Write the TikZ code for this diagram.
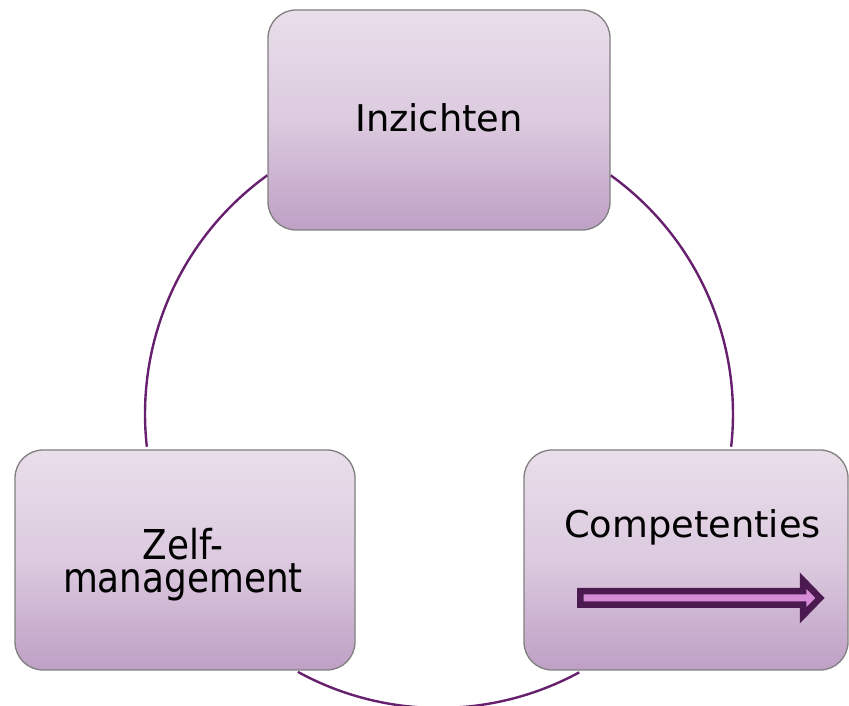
\documentclass[tikz,border=0pt]{standalone}
\usepackage{fontspec}
\setmainfont{DejaVu Sans}
\usepackage{graphicx}
\definecolor{boxtop}{RGB}{233,222,234}
\definecolor{boxmid}{RGB}{220,202,223}
\definecolor{boxbot}{RGB}{190,160,197}
\definecolor{boxedge}{RGB}{128,128,128}
\definecolor{ringcol}{RGB}{102,32,110}
\definecolor{arrowedge}{RGB}{74,26,80}
\definecolor{arrowfill}{RGB}{214,140,214}
\begin{document}
\begin{tikzpicture}[x=1pt,y=1pt,
  cyclebox/.style={draw=boxedge, line width=1.3pt, rounded corners=28pt,
    top color=boxtop, bottom color=boxbot, middle color=boxmid,
    minimum height=220pt, inner sep=0pt, outer sep=0pt},
  boxtext/.style={font=\fontsize{36.8}{44}\selectfont, inner sep=0pt, text=black},
  ring/.style={draw=ringcol, line width=2.4pt},
  bigarrow/.style={draw=arrowedge, fill=arrowfill, line width=6.5pt, miter limit=10}]
\useasboundingbox (0,0) rectangle (849,706);
\clip (0,0) rectangle (849,706);
\coordinate (c) at (439,292);
% ring segments
\draw[ring] (c) ++(125.7:294) arc[start angle=125.7, end angle=186.4, radius=294];
\draw[ring] (c) ++(54.3:294) arc[start angle=54.3, end angle=-6.4, radius=294];
\draw[ring] (c) ++(241.3:294) arc[start angle=241.3, end angle=298.5, radius=294];
% boxes
\node[cyclebox, minimum width=342pt] (inz) at (439,586) {};
\node[cyclebox, minimum width=340pt] (zelf) at (185,146) {};
\node[cyclebox, minimum width=324pt] (comp) at (686,146) {};
% texts
\node[boxtext, anchor=base] (inztext) at (439,574) {Inzichten};
\node[boxtext, anchor=base] (comptext) at (692.5,168.7) {Competenties};
\node[boxtext, font=\fontsize{35.8}{28.5}\selectfont, anchor=base] (zelftext) at (183,146)
  {\scalebox{1}[1.15]{\parbox[t]{300pt}{\centering Zelf-\\management}}};
% arrow
\draw[bigarrow] (580.25,101.25) -- (803,101.25) -- (803,90.5) -- (820,108)
  -- (803,125.5) -- (803,114.75) -- (580.25,114.75) -- cycle;
\end{tikzpicture}
\end{document}
